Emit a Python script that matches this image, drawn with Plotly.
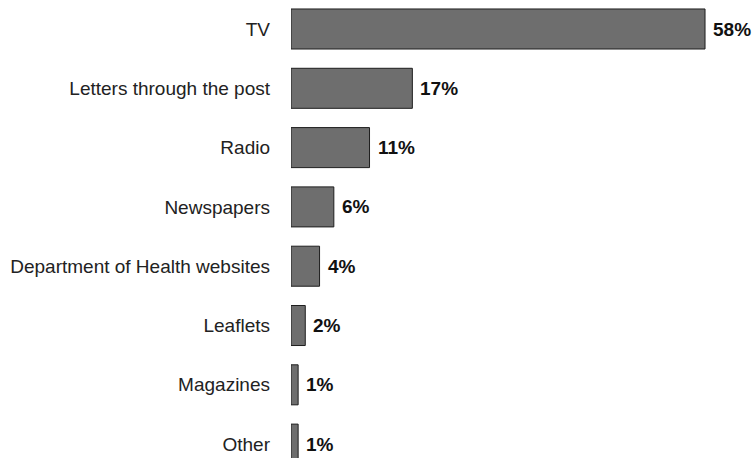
import plotly.graph_objects as go

# Share of respondents by information source
sources = ["TV", "Letters through the post", "Radio", "Newspapers",
           "Department of Health websites", "Leaflets", "Magazines", "Other"]
shares = [58, 17, 11, 6, 4, 2, 1, 1]

positions = list(range(len(sources)))

fig = go.Figure(
    go.Bar(
        x=shares,
        y=positions,
        orientation="h",
        width=0.675,
        marker=dict(color="#6e6e6e", line=dict(color="#1e1e1e", width=1)),
        hoverinfo="skip",
    )
)

# Value labels just past the end of each bar
for pos, val in zip(positions, shares):
    fig.add_annotation(
        x=val, y=pos, text=f"{val}%",
        xanchor="left", yanchor="middle", xshift=6,
        showarrow=False,
        font=dict(family="Liberation Sans, Arial, sans-serif", size=19,
                  color="#111111", weight="bold"),
    )

fig.update_layout(
    width=754,
    height=458,
    margin=dict(l=291, r=0, t=0, b=0),
    paper_bgcolor="white",
    plot_bgcolor="white",
    showlegend=False,
    font=dict(family="Liberation Sans, Arial, sans-serif", size=19, color="#222222"),
)

fig.update_xaxes(range=[0, 64.86], visible=False)
fig.update_yaxes(
    range=[7.234, -0.489],
    tickvals=positions,
    ticktext=sources,
    showgrid=False,
    zeroline=False,
    showline=False,
    ticks="",
    ticklabelstandoff=20,
    tickfont=dict(size=19, color="#222222"),
)

fig.write_html("out.html")
